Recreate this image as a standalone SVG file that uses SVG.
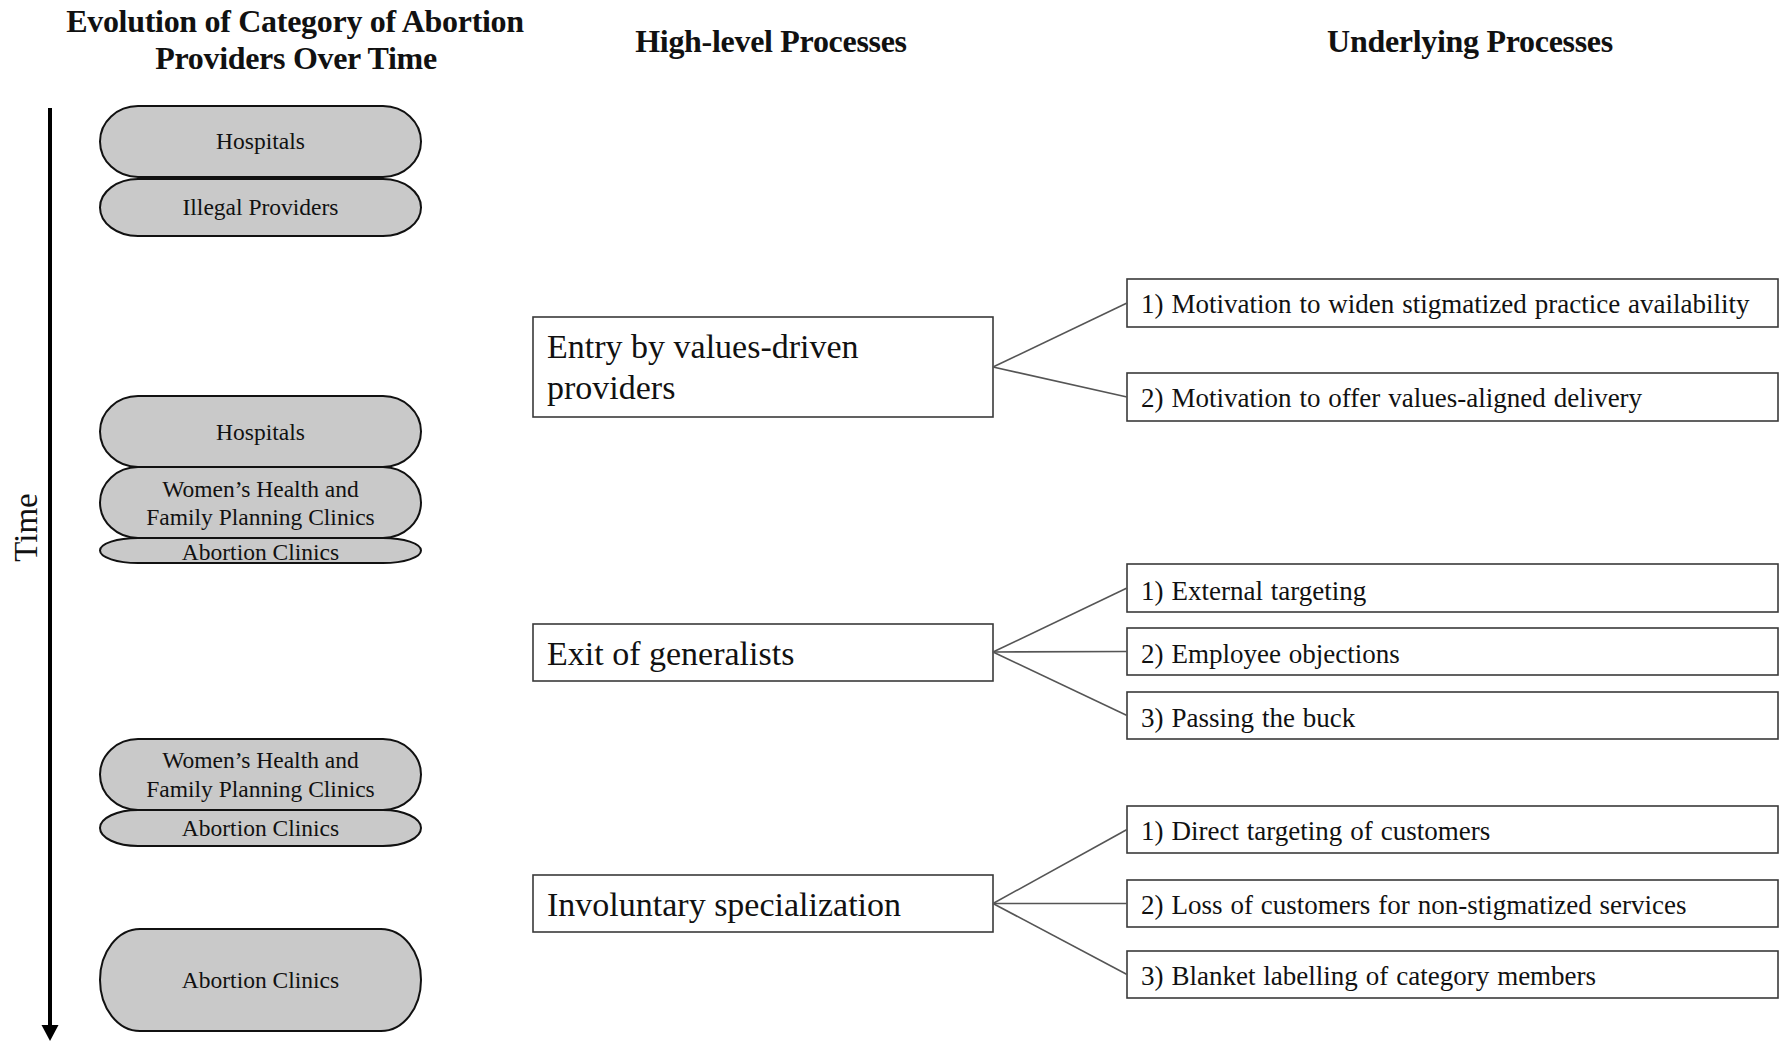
<svg xmlns="http://www.w3.org/2000/svg" width="1786" height="1041" viewBox="0 0 1786 1041">
<style>
.head{font-family:"Liberation Serif","Times New Roman",serif;font-weight:bold;font-size:32px;letter-spacing:-0.3px;fill:#111;text-anchor:middle}
.pill rect{fill:#c9c9c9;stroke:#111;stroke-width:2}
.pill text{font-family:"Liberation Serif","Times New Roman",serif;font-size:23.5px;fill:#111;text-anchor:middle}
.hl rect{fill:#fff;stroke:#3a3a3a;stroke-width:1.6}
.hl text{font-family:"Liberation Serif","Times New Roman",serif;font-size:34px;fill:#111}
.ul rect{fill:#fff;stroke:#3a3a3a;stroke-width:1.6}
.ul text{font-family:"Liberation Serif","Times New Roman",serif;font-size:27px;fill:#111;word-spacing:1.2px}
.conn line{stroke:#555;stroke-width:1.6}
</style>
<rect width="1786" height="1041" fill="#fff"/>

<g id="titles">
<text class="head" x="295" y="32">Evolution of Category of Abortion</text>
<text class="head" x="296" y="69">Providers Over Time</text>
<text class="head" x="771" y="52">High-level Processes</text>
<text class="head" x="1470" y="52">Underlying Processes</text>
</g>

<g id="time-axis">
<line x1="50" y1="108" x2="50" y2="1027" stroke="#000" stroke-width="4"/>
<path d="M41.5,1025 L58.5,1025 L50,1041 Z" fill="#000"/>
<text transform="translate(37,527.5) rotate(-90)" x="0" y="0" font-family="'Liberation Serif','Times New Roman',serif" font-size="33" fill="#111" text-anchor="middle">Time</text>
</g>

<g id="era1-hospitals" class="pill"><rect x="100" y="106" width="321" height="71" rx="38" ry="35.5"/><text x="260.5" y="149">Hospitals</text></g>
<g id="era1-illegal" class="pill"><rect x="100" y="179" width="321" height="57" rx="38" ry="28.5"/><text x="260.5" y="215">Illegal Providers</text></g>

<g id="era2-hospitals" class="pill"><rect x="100" y="396" width="321" height="71" rx="38" ry="35.5"/><text x="260.5" y="440">Hospitals</text></g>
<g id="era2-womens" class="pill"><rect x="100" y="467" width="321" height="71" rx="38" ry="35.5"/><text x="260.5" y="497">Women’s Health and</text><text x="260.5" y="525">Family Planning Clinics</text></g>
<g id="era2-abortion" class="pill"><rect x="100" y="538" width="321" height="25" rx="38" ry="12.5"/><text x="260.5" y="560">Abortion Clinics</text></g>

<g id="era3-womens" class="pill"><rect x="100" y="739" width="321" height="71" rx="38" ry="35.5"/><text x="260.5" y="768">Women’s Health and</text><text x="260.5" y="797">Family Planning Clinics</text></g>
<g id="era3-abortion" class="pill"><rect x="100" y="810" width="321" height="36" rx="38" ry="18"/><text x="260.5" y="836">Abortion Clinics</text></g>

<g id="era4-abortion" class="pill"><rect x="100" y="929" width="321" height="102" rx="40" ry="51"/><text x="260.5" y="988">Abortion Clinics</text></g>

<g id="hl-entry" class="hl"><rect x="533" y="317" width="460" height="100"/><text x="547" y="358">Entry by values-driven</text><text x="547" y="399">providers</text></g>
<g id="hl-exit" class="hl"><rect x="533" y="624" width="460" height="57"/><text x="547" y="665">Exit of generalists</text></g>
<g id="hl-invol" class="hl"><rect x="533" y="875" width="460" height="57"/><text x="547" y="916">Involuntary  specialization</text></g>

<g id="ul-entry-1" class="ul"><rect x="1127" y="279" width="651" height="48"/><text x="1141" y="313">1) Motivation to widen stigmatized practice availability</text></g>
<g id="ul-entry-2" class="ul"><rect x="1127" y="373" width="651" height="48"/><text x="1141" y="407">2) Motivation to offer values-aligned delivery</text></g>

<g id="ul-exit-1" class="ul"><rect x="1127" y="564" width="651" height="48"/><text x="1141" y="600">1) External targeting</text></g>
<g id="ul-exit-2" class="ul"><rect x="1127" y="628" width="651" height="47"/><text x="1141" y="663">2) Employee objections</text></g>
<g id="ul-exit-3" class="ul"><rect x="1127" y="692" width="651" height="47"/><text x="1141" y="727">3) Passing the buck</text></g>

<g id="ul-invol-1" class="ul"><rect x="1127" y="806" width="651" height="47"/><text x="1141" y="840">1) Direct targeting of customers</text></g>
<g id="ul-invol-2" class="ul"><rect x="1127" y="880" width="651" height="47"/><text x="1141" y="914">2) Loss of customers for non-stigmatized services</text></g>
<g id="ul-invol-3" class="ul"><rect x="1127" y="951" width="651" height="47"/><text x="1141" y="985">3) Blanket labelling of category members</text></g>

<g id="connectors" class="conn">
<line x1="993" y1="367" x2="1127" y2="303"/>
<line x1="993" y1="367" x2="1127" y2="397"/>
<line x1="993" y1="652" x2="1127" y2="588"/>
<line x1="993" y1="652" x2="1127" y2="651.5"/>
<line x1="993" y1="652" x2="1127" y2="715.5"/>
<line x1="993" y1="903.5" x2="1127" y2="829.5"/>
<line x1="993" y1="903.5" x2="1127" y2="903.5"/>
<line x1="993" y1="903.5" x2="1127" y2="974.5"/>
</g>
</svg>
